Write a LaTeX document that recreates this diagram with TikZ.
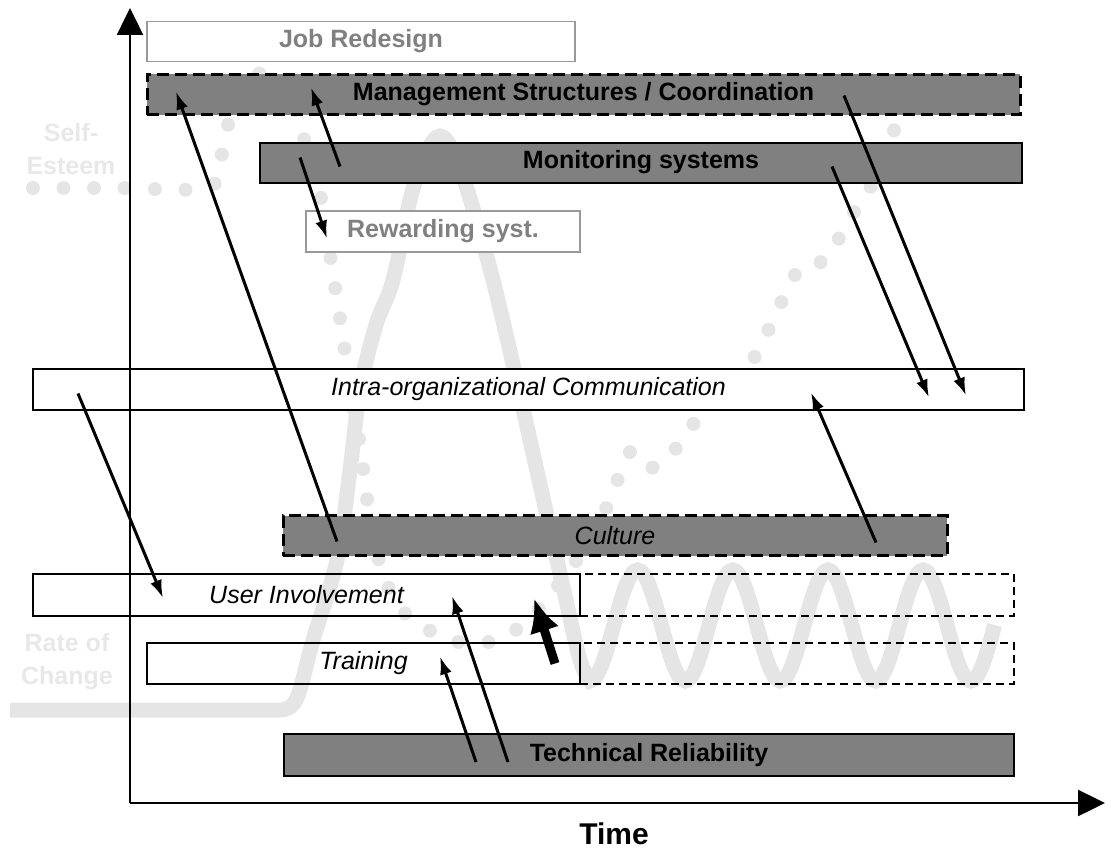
\documentclass[tikz,border=0pt]{standalone}
\usepackage{fontspec}
\setmainfont{Liberation Sans}
\usetikzlibrary{arrows.meta}
\usetikzlibrary{positioning}
\usetikzlibrary{calc}

\begin{document}
\begin{tikzpicture}[x=1pt,y=-1pt,
    rm/.style={font=\fontsize{25}{30}\selectfont},
    bf/.style={font=\fontsize{25}{30}\selectfont\bfseries},
    it/.style={font=\fontsize{25}{30}\selectfont\itshape},
    box/.style={draw,line width=2pt,inner sep=0pt,outer sep=0pt,minimum height=40pt,anchor=west},
    dark/.style={box,fill=gray},
    dashdark/.style={dark,line width=3pt,dash pattern=on 12pt off 6pt},
    pale/.style={box,bf,draw=gray!80,line width=1.5pt,text=gray,fill=white},
    ext/.style={box,anchor=center,line width=1.5pt,dash pattern=on 8pt off 5pt,minimum width=434pt},
    trend/.style={gray!20,line width=15pt},
    dots/.style={gray!20,line width=14pt,line cap=round,dash pattern=on 0pt off 30.5pt},
    faint/.style={text=gray!18,align=center,font=\fontsize{25}{33}\selectfont\bfseries},
    arr/.style={line width=3pt,-{Latex[length=18pt,width=12pt]}},
    bigarr/.style={line width=9pt,-{Latex[length=34pt,width=30pt]}},
    axis/.style={line width=2.5pt,-{Triangle[length=27pt,width=26pt]}}]
  \useasboundingbox (0,0) rectangle (1111,851);

  % background curves
  \draw[trend] (10,710) -- (278,710) -- plot[smooth,tension=0.6] coordinates {(278,710) (296,700) (313,640) (337,560) (350,470) (360,390) (376,325) (393,280) (410,200) (425,155) (440,136) (455,155) (472,205) (493,280) (512,360) (530,440) (548,520) (566,600) (580,660) (590,681)}
    cos (613.8,625) sin (637.6,570) cos (661.4,625) sin (685.2,681)
    cos (709,625) sin (732.8,570) cos (756.6,625) sin (780.4,681)
    cos (804.2,625) sin (828,570) cos (851.8,625) sin (875.6,681)
    cos (899.4,625) sin (923.2,570) cos (947,625) sin (970.8,681)
    cos (994.6,625);
  \draw[dots] plot[smooth,tension=0.55] coordinates {(33,188) (120,188) (207,188) (220,161) (228,125) (240,95) (262,72) (283,78) (298,118) (310,160) (322,203) (332,268) (341,325) (352,400) (360,445) (368,505) (380,565) (395,600) (412,620) (435,633) (463,643) (493,641) (520,627) (545,602) (568,572) (590,540) (610,500) (630,452) (648,468) (668,458) (686,434) (703,412) (725,395) (750,365) (777,312) (790,282) (806,264) (825,260) (842,233) (857,207) (873,182) (896,125) (905,95)};

  \node[faint] (self) at (71,149) {Self-\\Esteem};
  \node[faint] (rate) at (67,662) {Rate of\\Change};

  % boxes
  \node[pale,minimum width=428pt] (job) at (147,41.5) {Job Redesign};
  \node[dashdark,bf,minimum width=873pt] (mgmt) at (147,94.5) {Management Structures / Coordination};
  \node[dark,bf,minimum width=762pt] (mon) at (260,162.5) {Monitoring systems};
  \node[pale,minimum width=274pt,minimum height=41pt] (rew) at (306,231.5) {Rewarding syst.};
  \node[box,it,fill=white,minimum width=991pt,minimum height=41pt] (comm) at (33,389.5) {Intra-organizational Communication};
  \node[dashdark,it,minimum width=664pt] (cult) at (283,535.5) {Culture};
  \node[box,it,minimum width=547pt,minimum height=42pt] (user) at (33,595) {User Involvement};
  \node[ext,minimum height=42pt,right=0pt of user] (userx) {};
  \node[box,it,minimum width=433pt,minimum height=41pt] (train) at (147,663.5) {Training};
  \node[ext,minimum height=41pt,right=0pt of train] (trainx) {};
  \node[dark,bf,minimum width=730pt,minimum height=42pt] (tech) at (284,755) {Technical Reliability};

  % axes
  \coordinate (o) at (130,803);
  \coordinate (ytip) at (130,8);
  \coordinate (xtip) at (1105,803);
  \draw[axis] (o) -- (ytip);
  \draw[axis] (o) -- (xtip);
  \node[inner sep=0pt,font=\fontsize{30}{36}\selectfont\bfseries] (time) at (614,834) {Time};

  % influences
  \path[arr]
    ($(cult.west)+(54,6)$) edge ($(mgmt.west)+(29,-3)$)
    ($(mon.west)+(80,4)$) edge ($(mgmt.west)+(164,-7)$)
    ($(mon.west)+(40,-5)$) edge ($(rew.west)+(21,7)$)
    ($(mgmt.west)+(697,1)$) edge ($(comm.west)+(933,6)$)
    ($(mon.west)+(572,4)$) edge ($(comm.west)+(896,8)$)
    ($(cult.west)+(593,7)$) edge ($(comm.west)+(778,3)$)
    ($(comm.west)+(45,4)$) edge ($(user.west)+(130,3)$)
    ($(tech.west)+(192,7)$) edge ($(train.west)+(293,-7)$)
    ($(tech.west)+(224,7)$) edge ($(user.west)+(419,1)$);
  \draw[bigarr] ($(train.east)+(-25,0)$) -- ($(user.east)+(-46,3)$);
\end{tikzpicture}
\end{document}
